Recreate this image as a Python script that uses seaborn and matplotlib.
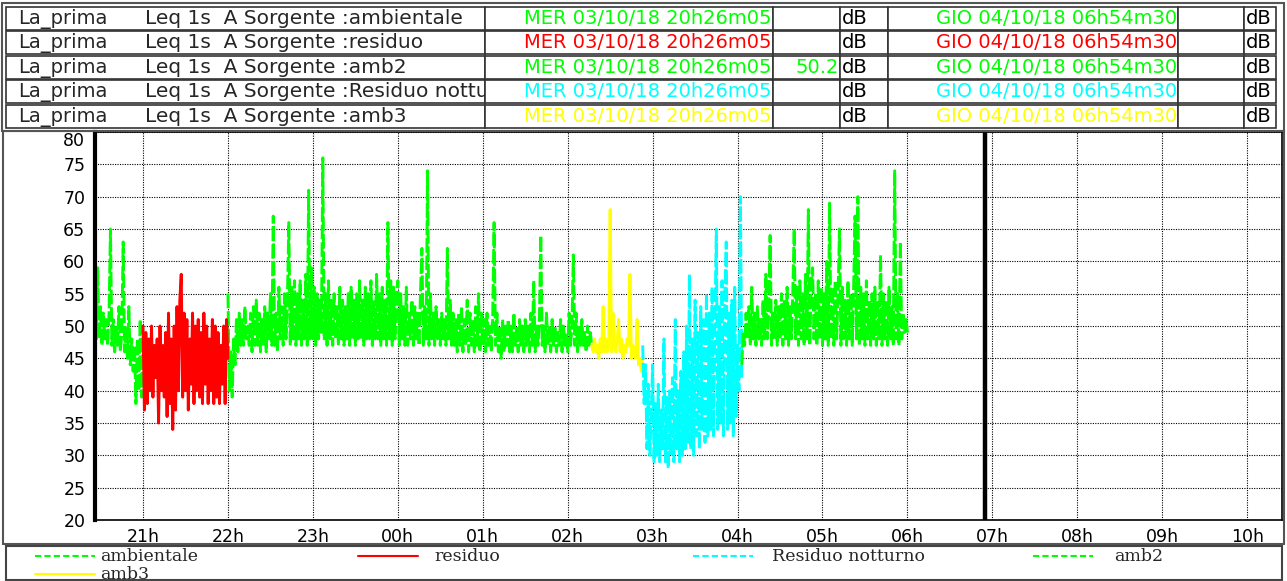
import numpy as np
import pandas as pd
import matplotlib
matplotlib.use("Agg")
import matplotlib.pyplot as plt
import seaborn as sns
from matplotlib.patches import Rectangle
from matplotlib.lines import Line2D

# ---------------- data (dB, one value per minute) ----------------
series_names = ["ambientale", "residuo", "Residuo notturno", "amb2", "amb3"]
series_colors = {"ambientale": "#00FF00", "residuo": "#FF0000",
                 "Residuo notturno": "#00FFFF", "amb2": "#00FF00", "amb3": "#FFFF00"}

# ambientale, part 1: 20:26 -> 21:00
amb_a_start = 20 + 26 / 60
amb_a = [69, 48, 59, 48, 53, 47, 52, 48, 51, 47, 52, 65, 47, 51, 46, 50, 47, 53, 46, 49,
         63, 46, 50, 45, 53, 44, 48, 43, 47, 38, 48, 40, 51, 39, 47]

# residuo: 21:00 -> 22:00
res_start = 21.0
res = [50, 37, 49, 38, 48, 40, 50, 39, 47, 42,
       48, 35, 50, 40, 47, 39, 49, 36, 52, 38,
       48, 34, 50, 37, 53, 40, 54, 58, 39, 52,
       40, 51, 37, 48, 41, 52, 38, 50, 40, 51,
       39, 49, 38, 52, 41, 50, 38, 48, 40, 51,
       38, 50, 39, 49, 38, 47, 41, 50, 38, 51, 45]

# ambientale, part 2: 22:00 -> 02:17
amb_b_start = 22.0
amb_b = [55, 40, 46, 39, 48, 44, 51, 46, 52, 47,
         51, 47, 53, 48, 50, 47, 52, 46, 53, 47,
         54, 47, 52, 46, 51, 47, 53, 46, 52, 48,
         55, 47, 67, 47, 52, 46, 56, 48, 53, 47,
         55, 48, 54, 66, 47, 56, 48, 57, 47, 55,
         48, 57, 47, 54, 48, 58, 47, 71, 48, 59,
         48, 56, 47, 55, 48, 54, 49, 76, 48, 55,
         47, 57, 48, 54, 47, 55, 48, 53, 47, 56,
         48, 54, 47, 53, 48, 55, 47, 56, 48, 54,
         47, 55, 48, 57, 48, 54, 47, 56, 48, 55,
         48, 57, 47, 54, 48, 58, 48, 55, 47, 56,
         48, 54, 47, 66, 48, 57, 47, 56, 48, 55,
         57, 47, 55, 48, 53, 47, 56, 47, 52, 48,
         54, 47, 53, 48, 52, 47, 55, 62, 47, 53,
         48, 74, 47, 55, 48, 52, 47, 53, 48, 51,
         47, 52, 48, 51, 47, 62, 48, 54, 47, 52,
         47, 51, 46, 52, 47, 53, 46, 51, 47, 54,
         46, 52, 47, 51, 46, 53, 47, 55, 46, 52,
         47, 51, 46, 52, 47, 50, 46, 51, 66, 47,
         52, 46, 50, 45, 51, 46, 50, 47, 51, 46,
         50, 46, 52, 47, 50, 46, 51, 47, 50, 46,
         51, 47, 50, 46, 52, 47, 57, 46, 50, 47,
         51, 64, 47, 50, 46, 52, 47, 50, 46, 51,
         47, 50, 46, 49, 47, 51, 46, 50, 47, 49,
         46, 52, 47, 50, 61, 47, 52, 46, 50, 47,
         51, 47, 49, 46, 50, 47, 49, 47]

# amb3: 02:17 -> 02:53
amb3_start = 24 + 2 + 17 / 60
amb3 = [47, 46, 48, 46, 47, 45, 48, 46, 53, 46,
        48, 46, 47, 68, 46, 52, 47, 46, 48, 51,
        46, 48, 45, 47, 46, 48, 47, 58, 45, 47,
        46, 45, 51, 44, 45, 43, 45]

# Residuo notturno: 02:53 -> 04:03
rn_start = 24 + 2 + 53 / 60
rn = [47, 38, 44, 31, 41, 30, 36,
      44, 29, 38, 30, 41, 29, 37, 31, 48, 29,
      39, 28, 40, 30, 42, 29, 51, 31, 40, 29,
      43, 30, 46, 31, 50, 32, 58, 31, 48, 30,
      54, 33, 49, 31, 53, 34, 51, 32, 55, 33,
      52, 34, 56, 33, 50, 65, 34, 53, 35, 57,
      33, 55, 63, 34, 52, 35, 54, 33, 56, 36,
      47, 40, 70, 42]

# amb2: 04:03 -> 06:00
amb2_start = 24 + 4 + 3 / 60
amb2 = [44, 49, 47, 52, 48, 53, 47,
        56, 48, 52, 47, 53, 48, 51, 47, 54, 48,
        58, 48, 53, 64, 47, 52, 48, 54, 47, 53,
        48, 55, 47, 54, 48, 56, 47, 53, 48, 55,
        65, 48, 56, 47, 57, 48, 55, 47, 58, 48,
        68, 47, 56, 59, 48, 55, 47, 57, 48, 56,
        47, 55, 48, 60, 47, 69, 48, 56, 47, 57,
        48, 55, 65, 47, 56, 48, 54, 47, 57, 48,
        55, 47, 56, 67, 48, 70, 47, 56, 48, 55,
        47, 57, 48, 54, 47, 55, 48, 56, 47, 54,
        48, 61, 47, 55, 48, 54, 47, 56, 48, 53,
        47, 74, 48, 55, 47, 63, 48, 52, 49, 51,
        49]

y_ticks = [20, 25, 30, 35, 40, 45, 50, 55, 60, 65, 70, 75, 80]
x_hours = [21, 22, 23, 24, 25, 26, 27, 28, 29, 30, 31, 32, 33, 34]
x_labels = ["21h", "22h", "23h", "00h", "01h", "02h", "03h", "04h",
            "05h", "06h", "07h", "08h", "09h", "10h"]
t_begin = 20 + 26 / 60 + 5 / 3600     # MER 03/10/18 20h26m05
t_end = 24 + 6 + 54 / 60 + 30 / 3600  # GIO 04/10/18 06h54m30
t_axis_end = 34.41

header_times = ("MER 03/10/18 20h26m05", "GIO 04/10/18 06h54m30")
header_rows = [("ambientale", "#00FF00", ""),
               ("residuo", "#FF0000", ""),
               ("amb2", "#00FF00", "50.2"),
               ("Residuo notturno", "#00FFFF", ""),
               ("amb3", "#FFFF00", "")]

# ---------------- long table ----------------
parts = [("ambientale", "a1", amb_a_start, amb_a),
         ("residuo", "r", res_start, res),
         ("ambientale", "a2", amb_b_start, amb_b),
         ("amb3", "y", amb3_start, amb3),
         ("Residuo notturno", "c", rn_start, rn),
         ("amb2", "g", amb2_start, amb2)]
frames = []
for name, seg, start, vals in parts:
    t = start + np.arange(len(vals)) / 60.0
    frames.append(pd.DataFrame({"time": t, "level": vals, "series": name, "segment": seg}))
df = pd.concat(frames, ignore_index=True)

# ---------------- figure ----------------
sns.set_style("white")
plt.rcParams["font.family"] = ["DejaVu Sans"]

W, H = 1287, 581
fig = plt.figure(figsize=(W / 100, H / 100), dpi=100)


def fx(x):
    return x / W


def fy(y):
    return 1 - y / H


ax = fig.add_axes([fx(95), fy(520), fx(1282) - fx(95), fy(132) - fy(520)])

dash_map = {"ambientale": (5, 1), "residuo": "", "Residuo notturno": (5, 1),
            "amb2": (5, 1), "amb3": ""}
sns.lineplot(data=df, x="time", y="level", hue="series", style="series",
             units="segment", estimator=None, sort=False, palette=series_colors,
             dashes=dash_map, linewidth=2.1, legend=False, ax=ax)

ax.axvline(t_end, color="black", linewidth=3.2, zorder=5)

ax.set_xlim(t_begin, t_axis_end)
ax.set_ylim(20, 80)
ax.set_yticks(y_ticks)
ax.set_yticklabels([str(v) for v in y_ticks], fontsize=12.5)
ax.get_yticklabels()[-1].set_verticalalignment("top")
ax.set_xticks(x_hours)
ax.set_xticklabels(x_labels, fontsize=12.5)
ax.set_xlabel("")
ax.set_ylabel("")
ax.tick_params(axis="both", direction="out", length=5, width=1, color="black",
               labelcolor="black")
ax.tick_params(axis="y", pad=2)
ax.tick_params(axis="x", pad=1)
ax.grid(True, color="black", linestyle=(0, (1, 1.2)), linewidth=0.8)
ax.set_axisbelow(True)
for side in ["top", "right", "bottom"]:
    ax.spines[side].set_visible(True)
    ax.spines[side].set_color("black")
    ax.spines[side].set_linewidth(1.2)
ax.spines["left"].set_linewidth(3)
ax.spines["left"].set_color("black")

# ---------------- header table ----------------
fig.add_artist(Rectangle((fx(2), fy(131)), fx(1284) - fx(2), fy(3) - fy(131),
                         transform=fig.transFigure, fill=False, edgecolor="#555555",
                         linewidth=1.5))
cols = [6, 485, 773, 840, 888, 1178, 1244, 1276]
row_tops = [7, 31, 56, 80, 105]
row_h = 23
for (name, col, val), top in zip(header_rows, row_tops):
    for i in range(len(cols) - 1):
        r = Rectangle((fx(cols[i]), fy(top + row_h)), fx(cols[i + 1]) - fx(cols[i]),
                      fy(top) - fy(top + row_h), transform=fig.transFigure,
                      facecolor="white", edgecolor="#333333", linewidth=1.2)
        fig.add_artist(r)
    yb = fy(top + 17)
    lbl_clip = Rectangle((fx(cols[0]), fy(top + row_h)), fx(cols[1]) - fx(cols[0]),
                         fy(top) - fy(top + row_h), transform=fig.transFigure,
                         visible=False)
    fig.add_artist(lbl_clip)
    fig.text(fx(18), yb, "La_prima", fontsize=14, va="baseline", ha="left")
    t2 = fig.text(fx(145), yb, "Leq 1s  A Sorgente :" + name, fontsize=14.5,
                  va="baseline", ha="left")
    t2.set_clip_path(lbl_clip)
    t2.set_clip_on(True)
    fig.text(fx(772), yb, header_times[0], fontsize=14, color=col, va="baseline", ha="right")
    if val:
        fig.text(fx(839), yb, val, fontsize=14, color=col, va="baseline", ha="right")
    fig.text(fx(842), yb, "dB", fontsize=14, color="black", va="baseline", ha="left")
    fig.text(fx(1177), yb, header_times[1], fontsize=14, color=col, va="baseline", ha="right")
    fig.text(fx(1246), yb, "dB", fontsize=14, color="black", va="baseline", ha="left")

# chart frame
fig.add_artist(Rectangle((fx(3), fy(544)), fx(1284) - fx(3), fy(131) - fy(544),
                         transform=fig.transFigure, fill=False, edgecolor="#555555",
                         linewidth=1.5))

# ---------------- legend box ----------------
fig.add_artist(Rectangle((fx(6), fy(580)), fx(1282) - fx(6), fy(546) - fy(580),
                         transform=fig.transFigure, fill=False, edgecolor="#444444",
                         linewidth=1.5))
legend_items = [("ambientale", 35, 556, (0, (3, 1.5)), 100),
                ("residuo", 358, 556, "-", 434),
                ("Residuo notturno", 693, 556, (0, (3, 1.5)), 772),
                ("amb2", 1033, 556, (0, (3, 1.5)), 1114),
                ("amb3", 35, 574, "-", 100)]
for name, x0, yy, ls, xt in legend_items:
    fig.add_artist(Line2D([fx(x0), fx(x0 + 60)], [fy(yy), fy(yy)],
                          transform=fig.transFigure, color=series_colors[name],
                          linestyle=ls, linewidth=1.5))
    fig.text(fx(xt), fy(yy + 5), name, fontsize=12.5, family=["DejaVu Serif"],
             va="baseline", ha="left")

fig.savefig("out.png", dpi=100)
